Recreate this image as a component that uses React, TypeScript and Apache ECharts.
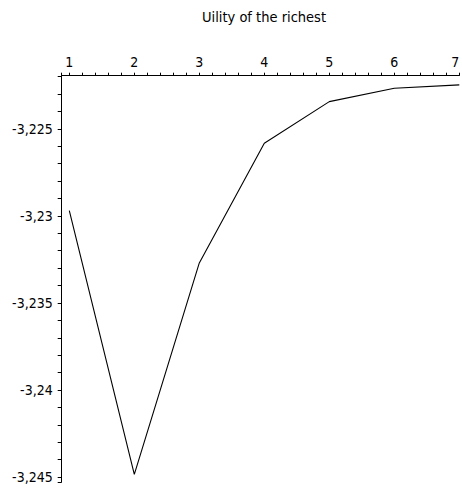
import React, { useEffect, useRef } from "react";
import * as echarts from "echarts";

const titleText = "Uility of the richest";
const periods = [1, 2, 3, 4, 5, 6, 7];
const utility = [-3.2297, -3.24485, -3.2327, -3.22582, -3.22343, -3.22266, -3.22247];
const xLabelValues = [1, 2, 3, 4, 5, 6, 7];
const yLabelValues = [-3.245, -3.24, -3.235, -3.23, -3.225];

const xMin = 0.883;
const xMax = 7;
const yMin = -3.24529;
const yMax = -3.22194;

const FONT = "'Liberation Sans Narrow', 'DejaVu Sans Condensed', 'Liberation Sans', Arial, sans-serif";

function range(start: number, end: number, step: number): number[] {
  const out: number[] = [];
  const n = Math.round((end - start) / step);
  for (let i = 0; i <= n; i++) out.push(Number((start + i * step).toFixed(6)));
  return out;
}

export default function App() {
  const ref = useRef<HTMLDivElement>(null);
  useEffect(() => {
    document.body.style.margin = "0";
    if (!ref.current) return;
    const chart = echarts.init(ref.current, null, { renderer: "svg" });
    const xTicks = [xMin, ...range(1, 7, 0.2)];
    const yTicks = [yMin, ...range(-3.245, -3.222, 0.001)];
    chart.setOption({
      animation: false,
      backgroundColor: "#fff",
      graphic: [
        {
          type: "text",
          x: 264,
          y: 17,
          style: {
            text: titleText,
            fontFamily: FONT,
            fontSize: 14.5,
            fill: "#000",
            textAlign: "center",
            textVerticalAlign: "middle",
          },
        },
      ],
      grid: {
        left: 61.7,
        right: 2.7,
        top: 75.7,
        bottom: 7,
        containLabel: false,
        outerBoundsMode: "none",
      },
      xAxis: {
        type: "value",
        position: "top",
        min: xMin,
        max: xMax,
        axisLine: { show: true, onZero: false, lineStyle: { color: "#000", width: 1 } },
        axisTick: {
          show: true,
          inside: false,
          length: 3,
          customValues: xTicks,
          lineStyle: { color: "#000", width: 1 },
        },
        axisLabel: {
          show: true,
          customValues: xLabelValues,
          margin: 7,
          fontFamily: FONT,
          fontSize: 14,
          color: "#000",
          showMinLabel: true,
          showMaxLabel: true,
          alignMaxLabel: "right",
          formatter: (v: number) => String(v),
        },
        splitLine: { show: false },
      },
      yAxis: {
        type: "value",
        min: yMin,
        max: yMax,
        axisLine: { show: true, onZero: false, lineStyle: { color: "#000", width: 1 } },
        axisTick: {
          show: true,
          inside: false,
          length: 4,
          customValues: yTicks,
          lineStyle: { color: "#000", width: 1 },
        },
        axisLabel: {
          show: true,
          customValues: yLabelValues,
          margin: 9,
          fontFamily: FONT,
          fontSize: 14,
          color: "#000",
          formatter: (v: number) => String(Number(v.toFixed(3))).replace(".", ","),
        },
        splitLine: { show: false },
      },
      series: [
        {
          type: "line",
          data: periods.map((p, i) => [p, utility[i]]),
          showSymbol: false,
          symbol: "none",
          lineStyle: { color: "#000", width: 1.1 },
          clip: false,
        },
      ],
    });
    return () => chart.dispose();
  }, []);
  return <div ref={ref} style={{ width: 462, height: 489 }} />;
}
